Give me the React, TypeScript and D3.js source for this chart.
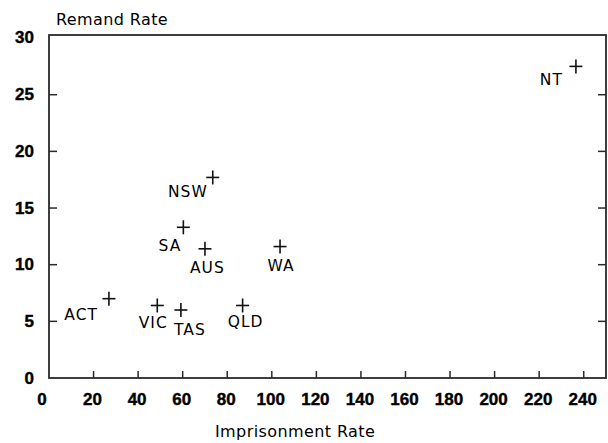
import React from "react";
import * as d3 from "d3";

const states = ["NT", "NSW", "SA", "AUS", "WA", "VIC", "TAS", "QLD", "ACT"];
const imprisonmentRate = [236.5, 73.5, 60.3, 70, 103.7, 48.6, 59.2, 86.9, 26.9];
const remandRate = [27.5, 17.7, 13.3, 11.4, 11.6, 6.4, 6.0, 6.4, 7.0];

const xTicks = [0, 20, 40, 60, 80, 100, 120, 140, 160, 180, 200, 220, 240];
const yTicks = [0, 5, 10, 15, 20, 25, 30];

// label layout relative to each marker: [anchor, dx, dy]
const labelLayout: [string, number, number][] = [
  ["end", -13, 19],
  ["end", -5, 20],
  ["end", -2, 24],
  ["start", -15, 24],
  ["middle", 1, 24],
  ["middle", -4, 23],
  ["middle", 9, 25],
  ["middle", 3, 22],
  ["end", -11, 21],
];

const W = 608;
const H = 443;

export default function App() {
  const x = d3.scaleLinear().domain([0, 250]).range([49, 606]);
  const y = d3.scaleLinear().domain([0, 30.27]).range([378, 35]);
  const [x0, x1] = x.range();
  const [yb, yt] = y.range();
  const stroke = "#2a2a2a";
  const regular = "'DejaVu Sans', sans-serif";
  const bold = "'Liberation Sans', Arial, sans-serif";

  return (
    <svg
      width={W}
      height={H}
      style={{ position: "absolute", left: 0, top: 0, background: "#fff" }}
    >
      <rect x={0} y={0} width={W} height={H} fill="#fff" />
      {/* frame */}
      <rect
        x={x0}
        y={yt}
        width={x1 - x0}
        height={yb - yt}
        fill="none"
        stroke={stroke}
        strokeWidth={1.8}
      />
      {/* y ticks left/right */}
      {yTicks.map((t) => (
        <g key={"y" + t}>
          {t > 0 && t < 30 && (
            <>
              <line x1={x0} x2={x0 + 8} y1={y(t)} y2={y(t)} stroke={stroke} strokeWidth={1.5} />
              <line x1={x1} x2={x1 - 8} y1={y(t)} y2={y(t)} stroke={stroke} strokeWidth={1.5} />
            </>
          )}
          <text
            x={34}
            y={t === 30 ? y(t) - 1 : y(t)}
            textAnchor="end"
            dominantBaseline="central"
            fontFamily={bold}
            fontWeight="bold"
            fontSize={17}
            stroke="#000"
            strokeWidth={0.4}
            fill="#000"
          >
            {t}
          </text>
        </g>
      ))}
      {/* x ticks */}
      {xTicks.map((t) => (
        <g key={"x" + t}>
          {t > 0 && (
            <line x1={x(t)} x2={x(t)} y1={yb} y2={yb - 7} stroke={stroke} strokeWidth={1.5} />
          )}
          <text
            x={t === 0 ? x(t) - 7 : x(t) - 1}
            y={405}
            textAnchor="middle"
            fontFamily={bold}
            fontWeight="bold"
            fontSize={17}
            stroke="#000"
            strokeWidth={0.4}
            fill="#000"
          >
            {t}
          </text>
        </g>
      ))}
      {/* axis titles */}
      <text x={56} y={25} fontFamily={regular} fontSize={16} letterSpacing={0.4} fill="#000">
        Remand Rate
      </text>
      <text x={215} y={437} fontFamily={regular} fontSize={16} letterSpacing={0.4} fill="#000">
        Imprisonment Rate
      </text>
      {/* points */}
      {states.map((s, i) => {
        const cx = x(imprisonmentRate[i]);
        const cy = y(remandRate[i]);
        const [anchor, dx, dy] = labelLayout[i];
        return (
          <g key={s}>
            <line x1={cx - 6.5} x2={cx + 6.5} y1={cy} y2={cy} stroke="#111" strokeWidth={1.6} />
            <line x1={cx} x2={cx} y1={cy - 7} y2={cy + 7} stroke="#111" strokeWidth={1.6} />
            <text
              x={cx + dx}
              y={cy + dy}
              textAnchor={anchor as any}
              fontFamily={regular}
              fontSize={15.5}
              letterSpacing={1}
              fill="#000"
            >
              {s}
            </text>
          </g>
        );
      })}
    </svg>
  );
}
